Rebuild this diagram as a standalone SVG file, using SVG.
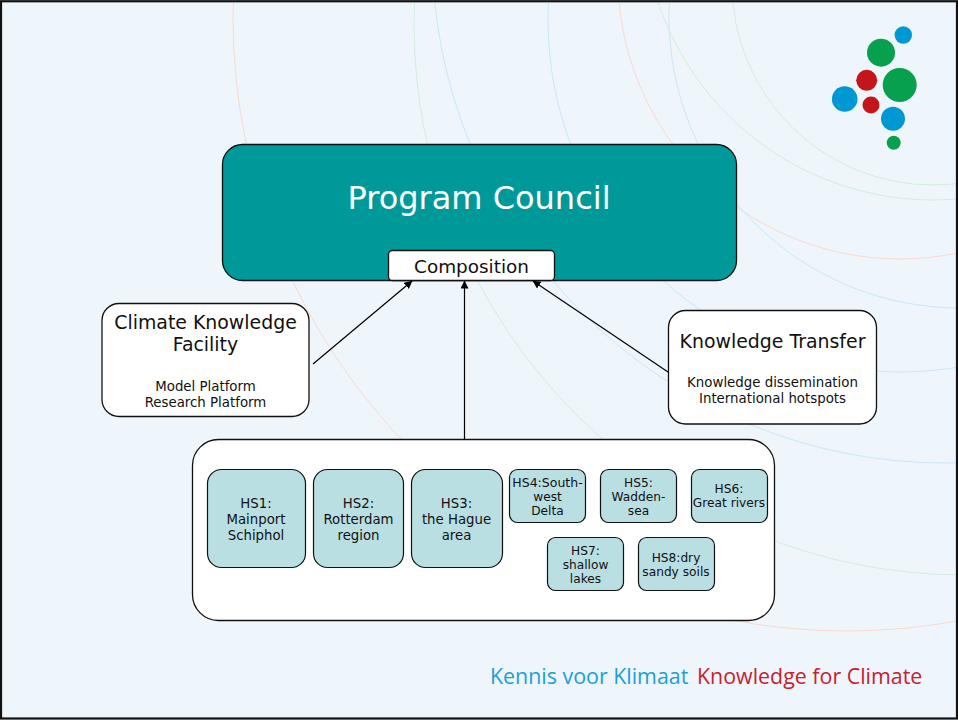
<svg xmlns="http://www.w3.org/2000/svg" width="958" height="720" viewBox="0 0 958 720">
<defs>
<style>
text{font-family:"DejaVu Sans",Verdana,sans-serif;text-anchor:middle;fill:#111}
.arc{fill:none;stroke-width:1}
.r{stroke:#f9d9cd}.g{stroke:#d3ecdf}.b{stroke:#c9e7f7}
.box{fill:#fff;stroke:#111;stroke-width:1.3}
.hs{fill:#b9dfe3;stroke:#111;stroke-width:1.2}
.t1{font-size:13.3px}.t2{font-size:12.2px}.t3{font-size:13.35px}.t4{font-size:18.9px}
.foot{font-family:"Open Sans",sans-serif;font-size:21.4px;text-anchor:start}
.conn{fill:none;stroke:#000;stroke-width:1.2;marker-end:url(#arrow)}
</style>
<marker id="arrow" viewBox="0 0 8 8" refX="7.5" refY="4" markerWidth="8" markerHeight="8" markerUnits="userSpaceOnUse" orient="auto"><path d="M0 0L8 4L0 8z" fill="#000"/></marker>
<clipPath id="page"><rect x="2" y="3" width="954" height="714"/></clipPath>
</defs>
<rect x="0" y="0" width="958" height="720" fill="#eef6fb"/>
<g id="background-arcs" clip-path="url(#page)">
<circle class="arc r" cx="847" cy="17" r="614"/>
<circle class="arc r" cx="900" cy="-23" r="282"/>
<circle class="arc g" cx="965" cy="24" r="551"/>
<circle class="arc g" cx="933" cy="-90" r="290"/>
<circle class="arc g" cx="933" cy="-16" r="201"/>
<circle class="arc b" cx="945" cy="-50" r="513"/>
<circle class="arc b" cx="900" cy="20" r="352"/>
<circle class="arc b" cx="960" cy="17" r="291"/>
</g>
<rect id="border" x="1" y="1.25" width="956" height="717.25" fill="none" stroke="#111" stroke-width="2.2"/>
<g id="logo">
<circle cx="903.3" cy="35" r="8.7" fill="#0098d4"/>
<circle cx="881" cy="52.7" r="14" fill="#06a04e"/>
<circle cx="866.7" cy="80.3" r="10.5" fill="#c4141c"/>
<circle cx="899.7" cy="85" r="17" fill="#06a04e"/>
<circle cx="844.7" cy="99" r="12.8" fill="#0098d4"/>
<circle cx="871" cy="105" r="8.5" fill="#c4141c"/>
<circle cx="893" cy="118.7" r="12" fill="#0098d4"/>
<circle cx="893.7" cy="142.7" r="7" fill="#06a04e"/>
</g>
<g id="program-council">
<rect x="222.5" y="144.5" width="514" height="136" rx="20" fill="#009999" stroke="#111" stroke-width="1.3"/>
<text x="479" y="209" font-size="32" style="fill:#fff">Program Council</text>
</g>
<g id="composition">
<rect class="box" x="388.5" y="250.5" width="166" height="30" rx="4"/>
<text x="471.500" y="272.500" font-size="18.4">Composition</text>
</g>
<g id="climate-knowledge-facility">
<rect class="box" x="102" y="303.5" width="207" height="113" rx="17"/>
<text class="t4" x="205.500" y="329">Climate Knowledge</text>
<text class="t4" x="205.500" y="351">Facility</text>
<text class="t3" x="205.500" y="391">Model Platform</text>
<text class="t3" x="205.500" y="407">Research Platform</text>
</g>
<g id="knowledge-transfer">
<rect class="box" x="668.500" y="310.500" width="208" height="113.500" rx="17"/>
<text class="t4" x="772.500" y="348">Knowledge Transfer</text>
<text class="t3" x="772.500" y="387">Knowledge dissemination</text>
<text class="t3" x="772.500" y="403">International hotspots</text>
</g>
<g id="hotspots">
<rect class="box" x="192.500" y="439.500" width="582" height="181" rx="26"/>
</g>
<g id="hs1"><rect class="hs" x="207.500" y="469.500" width="98" height="98" rx="14"/>
<text class="t1" x="256" y="508">HS1:</text><text class="t1" x="256" y="524">Mainport</text><text class="t1" x="256" y="540">Schiphol</text></g>
<g id="hs2"><rect class="hs" x="313.500" y="469.500" width="90" height="98" rx="14"/>
<text class="t1" x="358.500" y="508">HS2:</text><text class="t1" x="358.500" y="524">Rotterdam</text><text class="t1" x="358.500" y="540">region</text></g>
<g id="hs3"><rect class="hs" x="411.500" y="469.500" width="91" height="98" rx="14"/>
<text class="t1" x="456.500" y="508">HS3:</text><text class="t1" x="456.500" y="524">the Hague</text><text class="t1" x="456.500" y="540">area</text></g>
<g id="hs4"><rect class="hs" x="509.500" y="469.500" width="76" height="53" rx="8"/>
<text class="t2" x="547.500" y="487" style="font-size:12.5px">HS4:South-</text><text class="t2" x="547.500" y="501">west</text><text class="t2" x="547.500" y="515">Delta</text></g>
<g id="hs5"><rect class="hs" x="600.500" y="469.500" width="76" height="53" rx="8"/>
<text class="t2" x="638.500" y="487">HS5:</text><text class="t2" x="638.500" y="501">Wadden-</text><text class="t2" x="638.500" y="515">sea</text></g>
<g id="hs6"><rect class="hs" x="691.500" y="469.500" width="76" height="53" rx="8"/>
<text class="t2" x="729" y="493">HS6:</text><text class="t2" x="729" y="507">Great rivers</text></g>
<g id="hs7"><rect class="hs" x="547.500" y="537.500" width="76" height="53" rx="8"/>
<text class="t2" x="585.500" y="555">HS7:</text><text class="t2" x="585.500" y="569">shallow</text><text class="t2" x="585.500" y="583">lakes</text></g>
<g id="hs8"><rect class="hs" x="638.500" y="537.500" width="76" height="53" rx="8"/>
<text class="t2" x="676" y="562">HS8:dry</text><text class="t2" x="676" y="576">sandy soils</text></g>
<g id="connectors">
<line class="conn" x1="313" y1="364" x2="412" y2="281"/>
<line class="conn" x1="464.500" y1="439" x2="464.500" y2="281"/>
<line class="conn" x1="668" y1="372" x2="533" y2="281"/>
</g>
<g id="footer">
<text class="foot" x="490" y="684" style="fill:#1b9fd8">Kennis voor Klimaat</text>
<text class="foot" x="697" y="684" style="fill:#c8202f">Knowledge for Climate</text>
</g>
</svg>
